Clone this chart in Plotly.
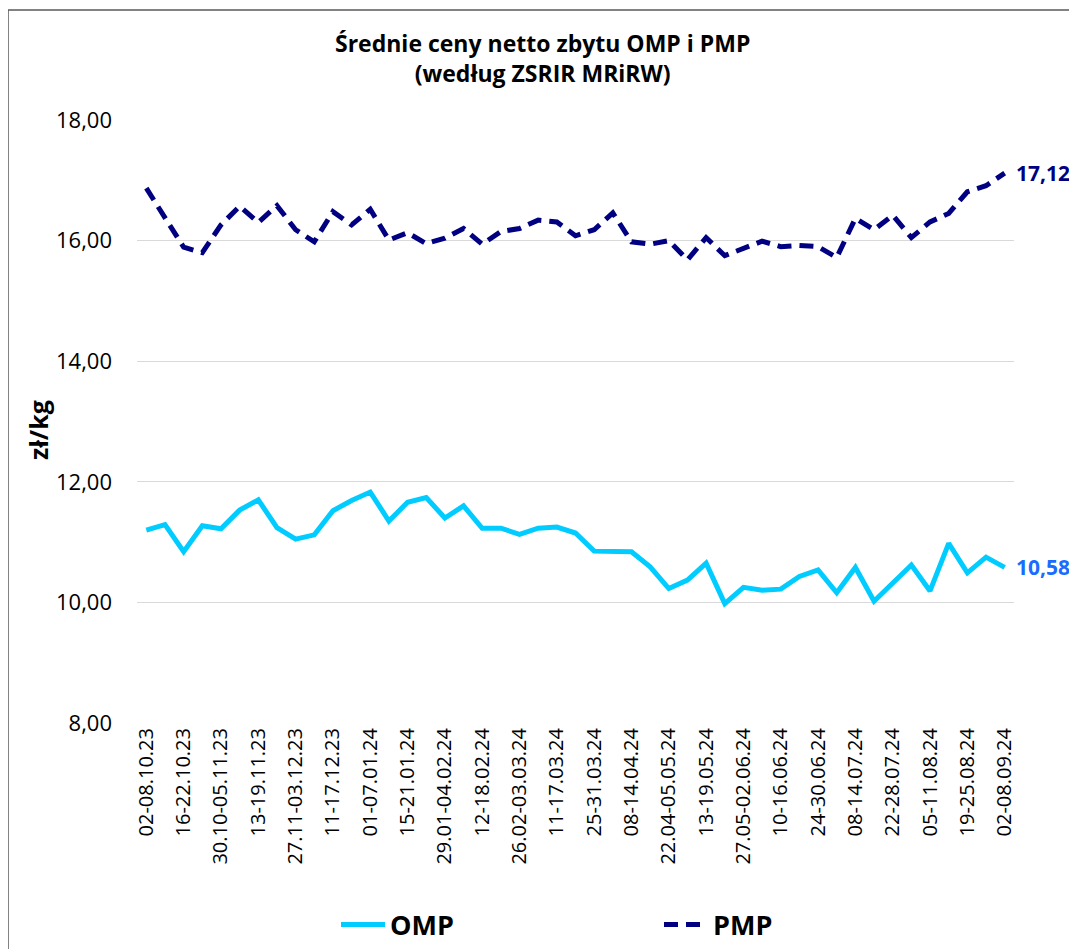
import plotly.graph_objects as go

categories = [
    "02-08.10.23", "09-15.10.23", "16-22.10.23", "23-29.10.23", "30.10-05.11.23",
    "06-12.11.23", "13-19.11.23", "20-26.11.23", "27.11-03.12.23", "04-10.12.23",
    "11-17.12.23", "18-31.12.23", "01-07.01.24", "08-14.01.24", "15-21.01.24",
    "22-28.01.24", "29.01-04.02.24", "05-11.02.24", "12-18.02.24", "19-25.02.24",
    "26.02-03.03.24", "04-10.03.24", "11-17.03.24", "18-24.03.24", "25-31.03.24",
    "01-07.04.24", "08-14.04.24", "15-21.04.24", "22.04-05.05.24", "06-12.05.24",
    "13-19.05.24", "20-26.05.24", "27.05-02.06.24", "03-09.06.24", "10-16.06.24",
    "17-23.06.24", "24-30.06.24", "01-07.07.24", "08-14.07.24", "15-21.07.24",
    "22-28.07.24", "29.07-04.08.24", "05-11.08.24", "12-18.08.24", "19-25.08.24",
    "26.08-01.09.24", "02-08.09.24",
]

omp = [11.20, 11.29, 10.84, 11.27, 11.22, 11.53, 11.70, 11.24, 11.05, 11.12,
       11.52, 11.69, 11.83, 11.35, 11.66, 11.74, 11.40, 11.60, 11.23, 11.23,
       11.13, 11.23, 11.25, 11.15, 10.85, 10.85, 10.84, 10.59, 10.23, 10.37,
       10.65, 9.98, 10.25, 10.20, 10.22, 10.43, 10.54, 10.16, 10.58, 10.02,
       10.33, 10.62, 10.19, 10.98, 10.49, 10.75, 10.58]

pmp = [16.87, 16.37, 15.89, 15.80, 16.26, 16.57, 16.30, 16.58, 16.18, 15.98,
       16.48, 16.26, 16.52, 16.01, 16.13, 15.95, 16.04, 16.20, 15.94, 16.15,
       16.20, 16.34, 16.31, 16.08, 16.18, 16.46, 15.98, 15.94, 16.00, 15.68,
       16.05, 15.75, 15.87, 15.99, 15.90, 15.92, 15.90, 15.72, 16.37, 16.18,
       16.42, 16.05, 16.31, 16.45, 16.81, 16.91, 17.12]

y_ticks = [8, 10, 12, 14, 16, 18]

FONT = "Open Sans"
OFF = 8  # page offset of the figure (body margin)
W, H = 1077 - OFF, 949 - OFF
PL, PR, PT, PB = 137, 1014, 120, 723  # plot area in page pixels
L, T = PL - OFF, PT - OFF
R = W - (PR - OFF)
B = H - (PB - OFF)
pw, ph = PR - PL, PB - PT

def px_x(p):
    return (p - PL) / pw

def px_y(p):
    return (PB - p) / ph

x_idx = list(range(len(categories)))

fig = go.Figure()
fig.add_trace(go.Scatter(
    x=x_idx, y=omp, mode="lines", name="OMP",
    line=dict(color="#00CCFF", width=5),
))
fig.add_trace(go.Scatter(
    x=x_idx, y=pmp, mode="lines", name="PMP",
    line=dict(color="#000080", width=5, dash="14px,8px"),
))

fig.add_annotation(x=x_idx[-1], y=pmp[-1], text="<b>17,12</b>", showarrow=False,
                   xanchor="left", yanchor="middle", xshift=9,
                   font=dict(family=FONT, size=21, color="#000080"))
fig.add_annotation(x=x_idx[-1], y=omp[-1], text="<b>10,58</b>", showarrow=False,
                   xanchor="left", yanchor="middle", xshift=9,
                   font=dict(family=FONT, size=21, color="#1A6BFF"))

fig.add_annotation(xref="paper", yref="paper", x=px_x(38), y=px_y(430),
                   xanchor="center", yanchor="middle",
                   text="<b>zł/kg</b>", textangle=-90, showarrow=False,
                   font=dict(family=FONT, size=25, color="#000000"))

fig.add_annotation(xref="paper", yref="paper", x=px_x(542), y=px_y(58),
                   text="<b>Średnie ceny netto zbytu OMP i PMP<br>(według ZSRIR MRiRW)</b>",
                   showarrow=False, xanchor="center", yanchor="middle",
                   font=dict(family=FONT, size=23, color="#000000"))

fig.add_shape(type="rect", xref="paper", yref="paper",
              x0=px_x(8), x1=px_x(1200), y0=px_y(1100), y1=px_y(10),
              line=dict(color="#5a5a5a", width=1.5), fillcolor="rgba(0,0,0,0)")

fig.update_layout(
    width=W, height=H,
    margin=dict(l=L, r=R, t=T, b=B, autoexpand=False),
    paper_bgcolor="white", plot_bgcolor="white",
    separators=", ",
    font=dict(family=FONT, color="#000000"),
    showlegend=True,
    legend=dict(orientation="h", x=px_x(336), xanchor="left", y=px_y(925), yanchor="middle",
                font=dict(family=FONT, size=27, color="#000000", weight="bold"),
                itemwidth=44, entrywidth=264, entrywidthmode="pixels",
                bgcolor="rgba(0,0,0,0)"),
    xaxis=dict(
        range=[-0.5, len(categories) - 0.5],
        tickmode="array", tickvals=x_idx[::2], ticktext=categories[::2],
        tickangle=-90, showgrid=False, zeroline=False, showline=False,
        ticks="", tickfont=dict(family=FONT, size=20, color="#000000"),
    ),
    yaxis=dict(
        range=[8, 18], tickmode="array", tickvals=y_ticks,
        tickformat=".2f", showgrid=True, gridcolor="#d9d9d9", gridwidth=1,
        zeroline=False, showline=False, ticks="", ticklabelstandoff=24,
        tickfont=dict(family=FONT, size=22, color="#000000"),
    ),
)

fig.write_html("out.html")
